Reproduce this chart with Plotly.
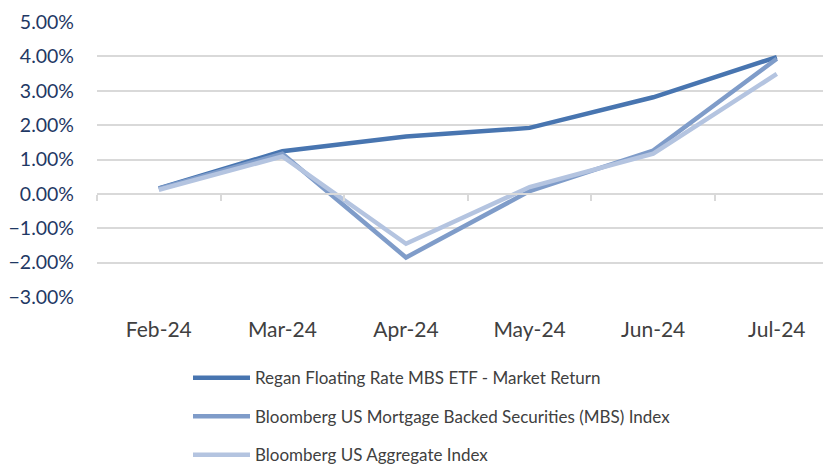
import plotly.graph_objects as go

months = ["Feb-24", "Mar-24", "Apr-24", "May-24", "Jun-24", "Jul-24"]
regan = [0.16, 1.24, 1.67, 1.92, 2.81, 3.98]
mbs = [0.15, 1.17, -1.85, 0.08, 1.26, 3.93]
agg = [0.12, 1.09, -1.45, 0.20, 1.17, 3.49]
names = [
    "Regan Floating Rate MBS ETF - Market Return",
    "Bloomberg US Mortgage Backed Securities (MBS) Index",
    "Bloomberg US Aggregate Index",
]
colors = ["#4875b0", "#7f9cc9", "#b4c4e0"]
y_ticks = [-3, -2, -1, 0, 1, 2, 3, 4, 5]

OFF = 8  # page body margin
W, H = 831, 464
ml, mr, mt = 97 - OFF, 0, 21.5 - OFF
plot_h = 275.5
mb = H - mt - plot_h
plot_w = W - ml - mr
unit = 123.6
xr = [-0.5, -0.5 + plot_w / unit]

fig = go.Figure()
for i, (name, vals) in enumerate(zip(names, [regan, mbs, agg])):
    fig.add_trace(go.Scatter(
        x=months, y=[v / 100 for v in vals], name=name, mode="lines",
        line=dict(color=colors[i], width=4.5), showlegend=False,
    ))
# invisible helper for the zero-line category axis
fig.add_trace(go.Scatter(x=months, y=[0] * len(months), xaxis="x2", mode="lines",
                         line=dict(width=0), opacity=0, showlegend=False, hoverinfo="skip"))

# manual legend (rows below the plot)
leg_x0, leg_x1, txt_x = 193 - OFF, 250 - OFF, 253 - OFF
row_y = [378 - OFF, 416.5 - OFF, 455 - OFF]
plot_bottom = mt + plot_h
shapes, annotations = [], []
for i, name in enumerate(names):
    yp = (plot_bottom - row_y[i]) / plot_h
    shapes.append(dict(type="line", xref="paper", yref="paper",
                       x0=(leg_x0 - ml) / plot_w, x1=(leg_x1 - ml) / plot_w, y0=yp, y1=yp,
                       line=dict(color=colors[i], width=4.5)))
    annotations.append(dict(xref="paper", yref="paper", x=(txt_x - ml) / plot_w, y=yp,
                            xanchor="left", yanchor="middle", text=name, showarrow=False,
                            font=dict(size=17, color="#404040")))

fig.update_layout(
    width=W, height=H,
    margin=dict(l=ml, r=mr, t=mt, b=mb, pad=0, autoexpand=False),
    paper_bgcolor="white", plot_bgcolor="white",
    font=dict(family="Lato, Open Sans, sans-serif", color="#404040"),
    xaxis=dict(
        type="category", categoryorder="array", categoryarray=months, range=xr,
        showgrid=False, zeroline=False, showline=False, ticks="", automargin=False,
        tickfont=dict(size=21, color="#404040"), ticklabelstandoff=18,
    ),
    xaxis2=dict(
        type="category", categoryorder="array", categoryarray=months, range=xr,
        overlaying="x", anchor="free", position=3 / 8, side="bottom", automargin=False,
        showgrid=False, zeroline=False, showline=True, linecolor="#d9d9d9", linewidth=1.5,
        ticks="outside", tickson="boundaries", ticklen=6, tickcolor="#d9d9d9", tickwidth=1.5,
        showticklabels=False,
    ),
    yaxis=dict(
        range=[-0.03, 0.05], tickvals=[v / 100 for v in y_ticks], tickformat=".2%",
        showgrid=True, gridcolor="#d9d9d9", gridwidth=1.5, zeroline=False, showline=False,
        automargin=False,
        tickfont=dict(size=19.5, color="#1f3864"), ticklabelstandoff=22,
    ),
    shapes=shapes,
    annotations=annotations,
    showlegend=False,
)

fig.write_html("out.html")
